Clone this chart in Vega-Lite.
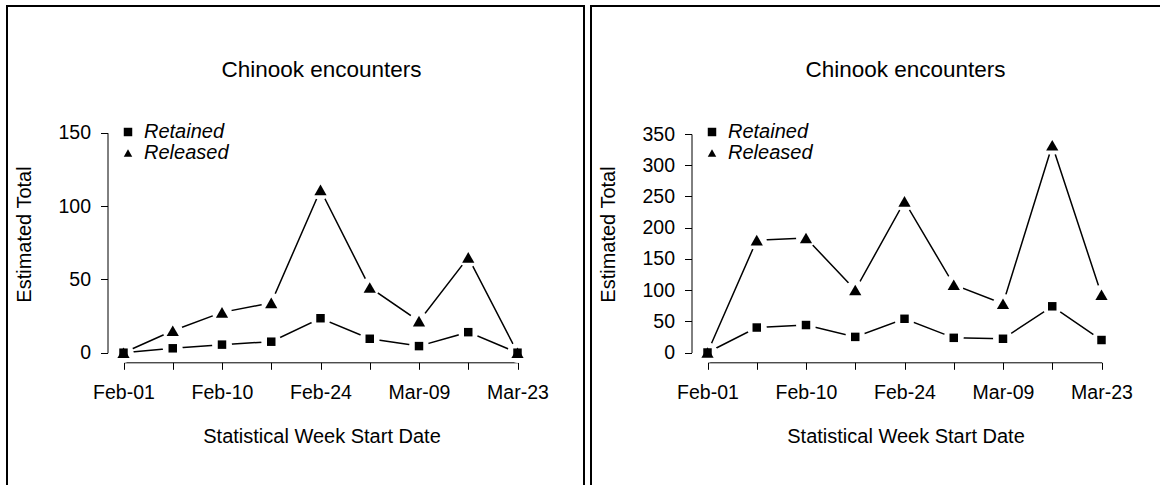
{
  "$schema": "https://vega.github.io/schema/vega-lite/v6.json",
  "padding": {"left": 6, "top": 5, "right": 0, "bottom": 0},
  "autosize": {"type": "pad"},
  "spacing": 7,
  "bounds": "flush",
  "background": "white",
  "config": {
    "view": {"stroke": "black", "strokeWidth": 2},
    "font": "Liberation Sans",
    "axis": {
      "domainColor": "black", "domainWidth": 1, "tickColor": "black", "tickWidth": 1, "tickSize": 7,
      "labelColor": "black", "labelFont": "Liberation Sans", "labelFontSize": 19.5,
      "titleColor": "black", "titleFont": "Liberation Sans", "titleFontSize": 20, "titleFontWeight": "normal",
      "grid": false, "labelFlush": false, "labelOverlap": false, "zindex": 1
    },
    "legend": {"labelFont": "Liberation Sans", "labelFontSize": 20, "labelFontStyle": "italic", "labelColor": "black", "symbolSize": 72},
    "title": {"font": "Liberation Sans", "fontSize": 22.5, "fontWeight": "normal", "color": "black"}
  },
  "datasets": {
    "left": [
      {"week": 1, "date": "Feb-01", "type": "Retained", "total": 0},
      {"week": 2, "date": "Feb-03", "type": "Retained", "total": 3},
      {"week": 3, "date": "Feb-10", "type": "Retained", "total": 5.5},
      {"week": 4, "date": "Feb-17", "type": "Retained", "total": 7.5},
      {"week": 5, "date": "Feb-24", "type": "Retained", "total": 23.5},
      {"week": 6, "date": "Mar-02", "type": "Retained", "total": 9.5},
      {"week": 7, "date": "Mar-09", "type": "Retained", "total": 4.5},
      {"week": 8, "date": "Mar-16", "type": "Retained", "total": 14},
      {"week": 9, "date": "Mar-23", "type": "Retained", "total": 0},
      {"week": 1, "date": "Feb-01", "type": "Released", "total": 0},
      {"week": 2, "date": "Feb-03", "type": "Released", "total": 15},
      {"week": 3, "date": "Feb-10", "type": "Released", "total": 27.5},
      {"week": 4, "date": "Feb-17", "type": "Released", "total": 34},
      {"week": 5, "date": "Feb-24", "type": "Released", "total": 111},
      {"week": 6, "date": "Mar-02", "type": "Released", "total": 44.5},
      {"week": 7, "date": "Mar-09", "type": "Released", "total": 21.5},
      {"week": 8, "date": "Mar-16", "type": "Released", "total": 65},
      {"week": 9, "date": "Mar-23", "type": "Released", "total": 0}
    ],
    "right": [
      {"week": 1, "date": "Feb-01", "type": "Retained", "total": 0},
      {"week": 2, "date": "Feb-03", "type": "Retained", "total": 40},
      {"week": 3, "date": "Feb-10", "type": "Retained", "total": 44},
      {"week": 4, "date": "Feb-17", "type": "Retained", "total": 25},
      {"week": 5, "date": "Feb-24", "type": "Retained", "total": 54},
      {"week": 6, "date": "Mar-02", "type": "Retained", "total": 23.5},
      {"week": 7, "date": "Mar-09", "type": "Retained", "total": 22},
      {"week": 8, "date": "Mar-16", "type": "Retained", "total": 74},
      {"week": 9, "date": "Mar-23", "type": "Retained", "total": 20},
      {"week": 1, "date": "Feb-01", "type": "Released", "total": 0},
      {"week": 2, "date": "Feb-03", "type": "Released", "total": 180},
      {"week": 3, "date": "Feb-10", "type": "Released", "total": 183.5},
      {"week": 4, "date": "Feb-17", "type": "Released", "total": 100},
      {"week": 5, "date": "Feb-24", "type": "Released", "total": 242},
      {"week": 6, "date": "Mar-02", "type": "Released", "total": 108.5},
      {"week": 7, "date": "Mar-09", "type": "Released", "total": 78},
      {"week": 8, "date": "Mar-16", "type": "Released", "total": 332},
      {"week": 9, "date": "Mar-23", "type": "Released", "total": 92.5}
    ]
  },
  "hconcat": [
    {
      "width": 577, "height": 502,
      "data": {"name": "left"},
      "title": {"text": "Chinook encounters", "offset": -86, "baseline": "middle", "dx": 26, "anchor": "middle", "frame": "group"},
      "encoding": {
        "x": {"field": "week", "type": "quantitative",
          "scale": {"domain": [1, 9], "range": [116.5, 510.5], "nice": false, "zero": false},
          "axis": {"values": [1, 2, 3, 4, 5, 6, 7, 8, 9], "offset": -145.7, "labelPadding": 14,
            "labelExpr": "datum.value == 1 ? 'Feb-01' : datum.value == 3 ? 'Feb-10' : datum.value == 5 ? 'Feb-24' : datum.value == 7 ? 'Mar-09' : datum.value == 9 ? 'Mar-23' : ''",
            "title": "Statistical Week Start Date", "titleX": 314.5, "titleY": 74.4, "titleBaseline": "middle", "titleAlign": "center"}},
        "y": {"field": "total", "type": "quantitative",
          "scale": {"domain": [0, 150], "range": [346.7, 126.7], "nice": false, "zero": false},
          "axis": {"values": [0, 50, 100, 150], "offset": -100.5, "labelPadding": 10,
            "title": "Estimated Total", "titleX": -83.5, "titleY": 228, "titleAngle": -90, "titleBaseline": "middle", "titleAlign": "center"}}
      },
      "layer": [
        {"mark": {"type": "line", "color": "black", "strokeWidth": 1.5, "clip": false}, "encoding": {"detail": {"field": "type", "type": "nominal"}}},
        {"mark": {"type": "point", "shape": "circle", "filled": true, "color": "white", "opacity": 1, "size": 400, "clip": false}},
        {"mark": {"type": "point", "filled": true, "color": "black", "opacity": 1, "clip": false},
          "encoding": {
            "shape": {"field": "type", "type": "nominal", "scale": {"domain": ["Retained", "Released"], "range": ["square", "triangle-up"]},
              "legend": {"title": null, "orient": "none", "legendX": 111, "legendY": 116, "rowPadding": 1, "labelOffset": 6, "symbolFillColor": "black", "symbolStrokeWidth": 0}},
            "size": {"condition": {"test": "datum.type == 'Released'", "value": 150}, "value": 72}
          }}
      ]
    },
    {
      "width": 577, "height": 502,
      "data": {"name": "right"},
      "title": {"text": "Chinook encounters", "offset": -86, "baseline": "middle", "dx": 26, "anchor": "middle", "frame": "group"},
      "encoding": {
        "x": {"field": "week", "type": "quantitative",
          "scale": {"domain": [1, 9], "range": [116.5, 510.5], "nice": false, "zero": false},
          "axis": {"values": [1, 2, 3, 4, 5, 6, 7, 8, 9], "offset": -145.7, "labelPadding": 14,
            "labelExpr": "datum.value == 1 ? 'Feb-01' : datum.value == 3 ? 'Feb-10' : datum.value == 5 ? 'Feb-24' : datum.value == 7 ? 'Mar-09' : datum.value == 9 ? 'Mar-23' : ''",
            "title": "Statistical Week Start Date", "titleX": 314.5, "titleY": 74.4, "titleBaseline": "middle", "titleAlign": "center"}},
        "y": {"field": "total", "type": "quantitative",
          "scale": {"domain": [0, 350], "range": [346.5, 128], "nice": false, "zero": false},
          "axis": {"values": [0, 50, 100, 150, 200, 250, 300, 350], "offset": -100.5, "labelPadding": 10,
            "title": "Estimated Total", "titleX": -83.5, "titleY": 228, "titleAngle": -90, "titleBaseline": "middle", "titleAlign": "center"}}
      },
      "layer": [
        {"mark": {"type": "line", "color": "black", "strokeWidth": 1.5, "clip": false}, "encoding": {"detail": {"field": "type", "type": "nominal"}}},
        {"mark": {"type": "point", "shape": "circle", "filled": true, "color": "white", "opacity": 1, "size": 400, "clip": false}},
        {"mark": {"type": "point", "filled": true, "color": "black", "opacity": 1, "clip": false},
          "encoding": {
            "shape": {"field": "type", "type": "nominal", "scale": {"domain": ["Retained", "Released"], "range": ["square", "triangle-up"]},
              "legend": {"title": null, "orient": "none", "legendX": 111, "legendY": 116, "rowPadding": 1, "labelOffset": 6, "symbolFillColor": "black", "symbolStrokeWidth": 0}},
            "size": {"condition": {"test": "datum.type == 'Released'", "value": 150}, "value": 72}
          }}
      ]
    }
  ],
  "resolve": {"scale": {"shape": "independent"}, "legend": {"shape": "independent"}}
}
